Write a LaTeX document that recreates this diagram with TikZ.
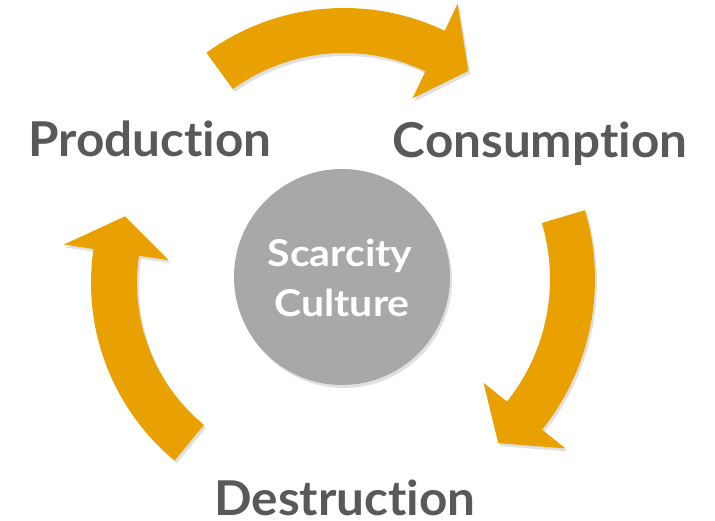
\documentclass[tikz,border=0pt]{standalone}
\usepackage{fontspec}
\setmainfont{Lato}[Ligatures={NoCommon,NoContextual}]
\newfontfamily\labelfont{Lato}[Ligatures={NoCommon,NoContextual}, FakeStretch=1.03]
\newfontfamily\corefont{Lato}[Ligatures={NoCommon,NoContextual}, FakeStretch=1.11]
\usetikzlibrary{calc}
\definecolor{arrowc}{RGB}{232,161,0}
\definecolor{discc}{RGB}{167,168,170}
\definecolor{textc}{RGB}{88,89,91}
\tikzset{
  label/.style={text=textc, font=\labelfont\fontsize{48}{50}\selectfont\bfseries, inner sep=0pt},
  inner/.style={text=white, font=\corefont\fontsize{37}{40}\selectfont\bfseries, inner sep=0pt},
  disc/.style={circle, fill=discc, minimum size=216pt, inner sep=0pt},
  shade/.style={fill=black, opacity=0.12},
}
% #1 centre, #2 outer R, #3 inner R, #4 tail angle, #5 head base angle, #6 tip angle
\newcommand{\curvedarrow}[7]{%
  \path[#7]
    ($#1+(#4:#2)$) arc[start angle=#4, end angle=#5, radius=#2]
    -- ($#1+(#5:#2+30)$)
    -- ($#1+(#6:#2/2+#3/2)$)
    -- ($#1+(#5:#3-30)$)
    -- ($#1+(#5:#3)$) arc[start angle=#5, end angle=#4, radius=#3]
    -- cycle;}
\begin{document}
\begin{tikzpicture}[x=1pt,y=1pt]
\useasboundingbox (0,0) rectangle (715,521);
% shadows
\begin{scope}[shift={(2,-3)}]
\curvedarrow{(344,279)}{234}{189}{126}{64.5}{54}{shade}
\curvedarrow{(354,242)}{241}{196}{16.6}{-38.7}{-48.7}{shade}
\curvedarrow{(321,238)}{230}{184}{230.5}{171.5}{161.2}{shade}
\fill[shade] (342,244) circle (108);
\end{scope}
% arrows
\curvedarrow{(344,279)}{234}{189}{126}{64.5}{54}{fill=arrowc}
\curvedarrow{(354,242)}{241}{196}{16.6}{-38.7}{-48.7}{fill=arrowc}
\curvedarrow{(321,238)}{230}{184}{230.5}{171.5}{161.2}{fill=arrowc}
% centre
\node[disc] (core) at (342,244) {};
\node[inner, anchor=base] (scarcity) at (340,254) {Scarcity};
\node[inner, anchor=base] (culture) at (342,204) {Culture};
% labels
\node[label, anchor=base] (production) at (150,364) {Production};
\node[label, anchor=base] (consumption) at (540,363) {Consumption};
\node[label, anchor=base] (destruction) at (345,5) {Destruction};
\end{tikzpicture}
\end{document}
